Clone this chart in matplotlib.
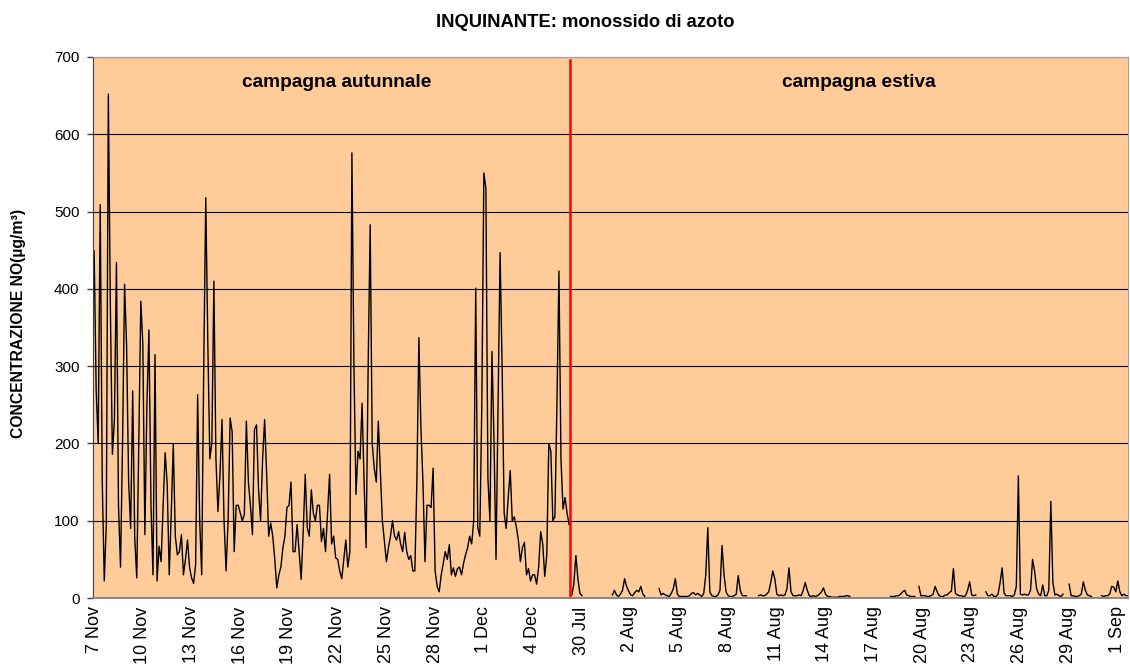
import numpy as np
import matplotlib
matplotlib.use("Agg")
import matplotlib.pyplot as plt

# NO concentration (ug/m3), one reading every 3 hours
autumn_no = [449, 270, 200, 509, 151, 22, 95, 652, 375, 186,
             231, 434, 120, 40, 200, 406, 326, 150, 90, 268,
             78, 26, 200, 384, 328, 82, 250, 347, 120, 30,
             315, 22, 67, 47, 120, 188, 147, 30, 110, 199,
             80, 56, 60, 82, 30, 50, 75, 40, 26, 19,
             43, 263, 100, 30, 300, 518, 332, 180, 200, 410,
             180, 112, 160, 231, 100, 35, 100, 233, 215, 60,
             120, 120, 110, 100, 108, 229, 150, 120, 82, 218,
             224, 140, 100, 180, 231, 160, 80, 97, 80, 50,
             13, 30, 40, 65, 80, 117, 120, 150, 60, 60,
             95, 60, 24, 85, 160, 91, 80, 140, 110, 100,
             120, 120, 73, 90, 60, 110, 160, 70, 80, 52,
             50, 35, 25, 50, 75, 40, 60, 576, 300, 134,
             190, 180, 252, 150, 65, 300, 483, 200, 168, 150,
             229, 164, 100, 73, 47, 65, 80, 100, 80, 75,
             86, 70, 60, 85, 60, 50, 55, 35, 35, 150,
             337, 220, 150, 47, 120, 120, 117, 168, 35, 15,
             8, 30, 45, 60, 50, 69, 30, 39, 28, 38,
             40, 30, 45, 56, 65, 80, 70, 100, 401, 91,
             80, 250, 550, 530, 155, 100, 319, 203, 50, 250,
             447, 300, 110, 90, 130, 165, 100, 105, 92, 75,
             47, 65, 72, 30, 38, 22, 30, 30, 18, 40,
             86, 70, 28, 55, 200, 190, 100, 105, 250, 423,
             180, 115, 130, 110, 95]

nan = np.nan
# summer campaign, same 3-hour step, nan where no data was recorded
summer_no = [4, 18, 55, 25, 6, 3, nan, nan, nan, nan,
             nan, nan, nan, nan, nan, nan, nan, nan, nan, nan,
             4, 10, 4, 2, 5, 10, 25, 15, 9, 4,
             3, 7, 10, 8, 15, 5, 2, nan, nan, nan,
             nan, nan, nan, 12, 4, 6, 4, 3, 2, 6,
             12, 25, 5, 2, 2, 2, 2, 2, 3, 6,
             7, 4, 6, 4, 2, 6, 30, 91, 8, 3,
             2, 2, 4, 10, 68, 30, 8, 3, 2, 2,
             3, 5, 29, 10, 3, 3, 3, nan, nan, nan,
             nan, nan, 3, 4, 3, 3, 5, 8, 20, 35,
             25, 5, 3, 4, 3, 4, 12, 39, 8, 3,
             3, 3, 4, 3, 10, 20, 10, 3, 2, 3,
             2, 3, 5, 8, 13, 5, 2, 2, 1, 1,
             1, 1, 2, 2, 2, 3, 3, 2, nan, nan,
             nan, nan, nan, nan, nan, nan, nan, nan, nan, nan,
             nan, nan, nan, nan, nan, nan, nan, 2, 2, 2,
             3, 3, 5, 8, 10, 4, 3, 2, 2, 2,
             nan, 15, 3, 3, 3, 2, 2, 3, 5, 15,
             8, 3, 2, 2, 4, 4, 7, 9, 38, 6,
             4, 3, 3, 2, 3, 10, 21, 4, 3, 4,
             nan, nan, nan, nan, 8, 3, 3, 5, 2, 2,
             5, 20, 39, 6, 3, 3, 3, 2, 4, 15,
             158, 5, 4, 5, 4, 4, 10, 50, 35, 12,
             5, 3, 17, 3, 3, 10, 125, 20, 4, 5,
             3, 2, 5, nan, nan, 18, 3, 3, 2, 2,
             3, 5, 21, 10, 4, 3, 2, nan, nan, nan,
             nan, 3, 2, 3, 3, 5, 15, 14, 8, 22,
             8, 3, 5, 3, 3]

tick_labels = ["7 Nov", "10 Nov", "13 Nov", "16 Nov", "19 Nov", "22 Nov",
               "25 Nov", "28 Nov", "1 Dec", "4 Dec", "30 Jul", "2 Aug",
               "5 Aug", "8 Aug", "11 Aug", "14 Aug", "17 Aug", "20 Aug",
               "23 Aug", "26 Aug", "29 Aug", "1 Sep"]

step = 3          # hours between readings
summer_start = 706
campaign_split = 704
n_hours = 1528

plt.rcParams["font.family"] = ["Liberation Sans", "DejaVu Sans"]

fig = plt.figure(figsize=(11.3, 6.69), dpi=100)
ax = fig.add_axes([0.0827, 0.1061, 0.9155, 0.8087])
ax.set_facecolor("#FFCC99")

autumn_x = np.arange(len(autumn_no)) * step
summer_x = summer_start + np.arange(len(summer_no)) * step
ax.plot(autumn_x, autumn_no, color="black", lw=1.0)
ax.plot(summer_x, summer_no, color="black", lw=1.0)

# split between the two campaigns
ax.axvline(campaign_split, color="red", lw=1.8, ymax=0.995)

ax.set_xlim(-1, n_hours)
ax.set_ylim(0, 700)
ax.set_yticks(np.arange(0, 701, 100))
ax.set_xticks(np.arange(len(tick_labels)) * 72)
ax.set_xticklabels(tick_labels, rotation=90, fontsize=13)
ax.tick_params(axis="x", length=0, pad=6)
ax.tick_params(axis="y", length=4, width=1, labelsize=11, pad=6, color="#404040")
ax.yaxis.grid(True, color="black", lw=0.8)
ax.set_axisbelow(True)

for side in ["top", "right"]:
    ax.spines[side].set_color("#a0a0a0")
ax.spines["left"].set_color("#404040")
ax.spines["bottom"].set_color("#808080")
ax.spines["bottom"].set_linewidth(1.3)

ax.text(358, 667, "campagna autunnale", ha="center", va="center",
        fontsize=13.8, fontweight="bold")
ax.text(1130, 667, "campagna estiva", ha="center", va="center",
        fontsize=13.8, fontweight="bold")

fig.text(0.518, 0.966, "INQUINANTE: monossido di azoto", ha="center",
         va="center", fontsize=13.2, fontweight="bold")
fig.text(0.016, 0.517, "CONCENTRAZIONE NO(µg/m³)", rotation=90, ha="center",
         va="center", fontsize=11.3, fontweight="bold")

fig.savefig("out.png", dpi=100)
